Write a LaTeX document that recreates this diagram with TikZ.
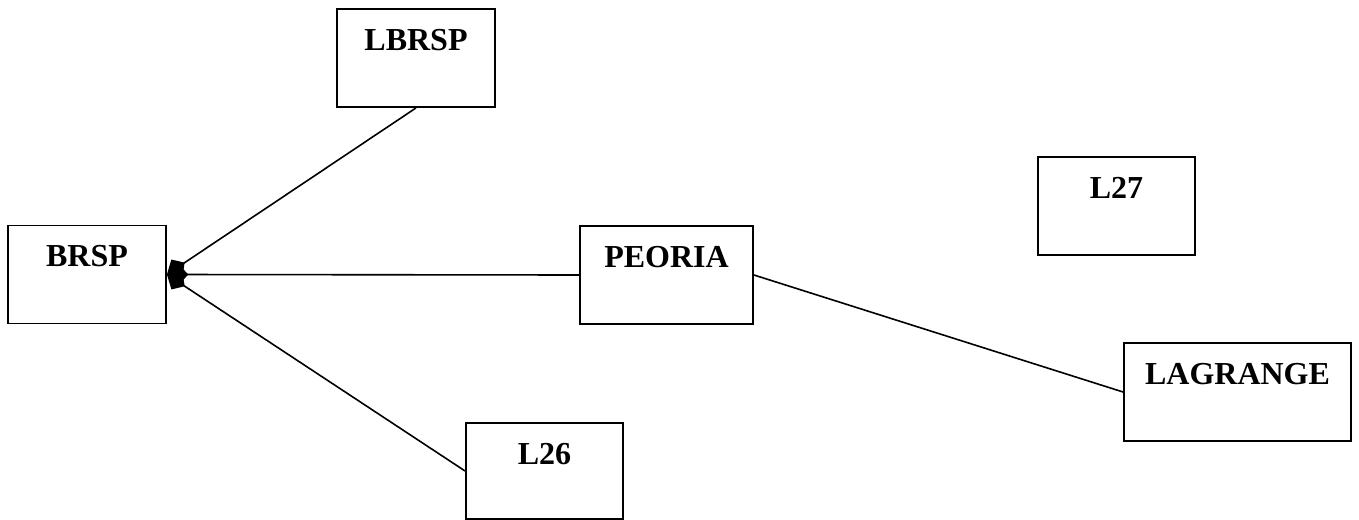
\documentclass[tikz,border=0pt]{standalone}
\usepackage{fontspec}
\setmainfont{Liberation Serif}
\usetikzlibrary{arrows.meta}
\begin{document}
\begin{tikzpicture}[x=0.75pt,y=-0.75pt,
  box/.style={draw, line width=1.4pt, rectangle, inner sep=0pt},
  lbl/.style={font=\fontsize{24}{28}\selectfont\bfseries, anchor=base, inner sep=0pt, yshift=-31.5pt},
  link/.style={line width=1.2pt},
  tip/.style={link, -{Kite[length=16pt, width=15pt, inset=7pt, fill=black]}}]
\useasboundingbox (0,0) rectangle (1359,520);
% boxes: centre, width, height in px units
\node[box, minimum width=118.5pt, minimum height=73.5pt, label={[lbl]north:BRSP}] (brsp) at (87,274.5) {};
\node[box, minimum width=118.5pt, minimum height=73.5pt, label={[lbl]north:LBRSP}] (lbrsp) at (416,58) {};
\node[box, minimum width=129.75pt, minimum height=73.5pt, label={[lbl]north:PEORIA}] (peoria) at (666.5,275) {};
\node[box, minimum width=117.75pt, minimum height=73.5pt, label={[lbl]north:L27}] (l27) at (1116.5,206) {};
\node[box, minimum width=170.25pt, minimum height=73.5pt, label={[lbl]north:LAGRANGE}] (lagrange) at (1237.5,392) {};
\node[box, minimum width=117.75pt, minimum height=72pt, label={[lbl]north:L26}] (l26) at (544.5,471) {};
% connectors
\draw[tip] (lbrsp.south) -- (brsp.east);
\draw[tip] (peoria.west) -- (brsp.east);
\draw[tip] (l26.west) -- (brsp.east);
\draw[link] (peoria.east) -- (lagrange.west);
\end{tikzpicture}
\end{document}
